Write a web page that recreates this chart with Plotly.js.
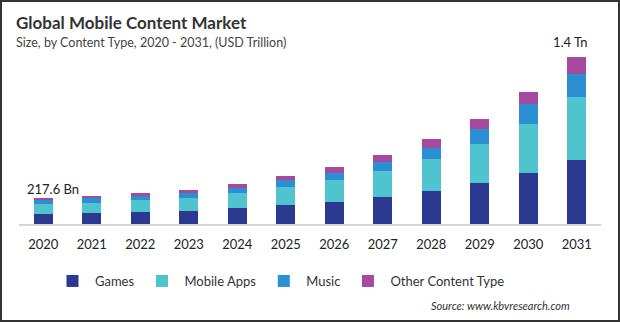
<!DOCTYPE html>
<html>
<head>
<meta charset="utf-8">
<script src="https://cdn.plot.ly/plotly-3.0.1.min.js"></script>
<style>
html,body{margin:0;padding:0;background:#fff;}
#wrap{position:relative;width:620px;height:322px;}
#chart{position:absolute;left:0;top:0;width:620px;height:322px;}
#frame{position:absolute;left:0;top:0;width:620px;height:322px;box-sizing:border-box;border:2px solid #333;pointer-events:none;}
</style>
</head>
<body>
<div id="wrap"><div id="chart"></div><div id="frame"></div></div>
<script>
const years = ['2020','2021','2022','2023','2024','2025','2026','2027','2028','2029','2030','2031'];
const games = [86, 92, 101, 109, 134, 160, 185, 229, 277, 344, 428, 538];
const mobileApps = [80, 87, 103, 112, 129, 154, 185, 218, 271, 328, 412, 529];
const music = [32, 36, 34, 42, 39, 53, 56, 76, 90, 126, 162, 193];
const otherContent = [19.6, 19, 23, 23, 34, 34, 55, 56, 78, 84, 107, 140];
const seriesNames = ['Games', 'Mobile Apps', 'Music', 'Other Content Type'];
const valueLabels = {'2020': '217.6 Bn', '2031': '1.4 Tn'};

const colors = ['#2b3990', '#4fc4cf', '#2b8fd1', '#a54a9e'];
const seriesData = [games, mobileApps, music, otherContent];
const FONT = 'Lato, "Open Sans", sans-serif';

const traces = seriesData.map((vals, i) => ({
  type: 'bar', name: seriesNames[i], x: years, y: vals,
  marker: {color: colors[i], line: {width: 0}},
  hoverinfo: 'x+y+name'
}));

const totals = years.map((_, k) => seriesData.reduce((s, arr) => s + arr[k], 0));

const annotations = [
  {xref:'paper', yref:'paper', x:0, y:1, xanchor:'left', yanchor:'middle', showarrow:false,
   text:'<b>Global Mobile Content Market</b>', font:{family:FONT, size:17, color:'#333'}},
  {xref:'paper', yref:'paper', x:0, y:1, xanchor:'left', yanchor:'middle', showarrow:false,
   text:'Size, by Content Type, 2020 - 2031, (USD Trillion)', font:{family:FONT, size:12.5, color:'#444'}},
  {xref:'paper', yref:'paper', x:1, y:0, xanchor:'right', yanchor:'middle', showarrow:false,
   text:'<i>Source: www.kbvresearch.com</i>', font:{family:FONT, size:11, color:'#333'}}
];
years.forEach((y, k) => {
  if (valueLabels[y]) {
    annotations.push({x: k, y: totals[k], xref:'x', yref:'y', yanchor:'bottom', xanchor:'center',
      showarrow:false, text: valueLabels[y], xshift: k === 0 ? 10 : -6, yshift: k === 0 ? -1 : 5,
      font:{family:FONT, size:13, color:'#222'}});
  }
});

const layout = {
  width: 620, height: 322,
  margin: {l: 19, r: 19, t: 40, b: 98},
  barmode: 'stack', bargap: 0.61,
  paper_bgcolor: '#fff', plot_bgcolor: '#fff',
  showlegend: true,
  legend: {orientation:'h', x: 0.09, y: -0.2, xanchor:'left', yanchor:'top',
    font:{family:FONT, size:13, color:'#333'}, itemwidth:35, traceorder:'normal', itemclick:false},
  xaxis: {type:'category', range:[-0.5, 11.5], showline:true, linecolor:'#d4d4d4', linewidth:1.5,
    ticks:'outside', ticklen:8, tickcolor:'rgba(0,0,0,0)', showgrid:false, zeroline:false,
    tickfont:{family:FONT, size:13, color:'#222'}, fixedrange:true},
  yaxis: {range:[0, 1542.5], visible:false, showgrid:false, zeroline:false, fixedrange:true},
  annotations: annotations,
  font: {family: FONT}
};
const plotH = 322 - 40 - 98, plotW = 620 - 19 - 19;
function py(pix){ return (322 - 98 - pix) / plotH; }
function px(pix){ return (pix - 19) / plotW; }
annotations[0].x = px(14); annotations[0].y = py(23);
annotations[1].x = px(14); annotations[1].y = py(43);
annotations[2].x = px(572); annotations[2].y = py(305);
layout.legend.x = px(50); layout.legend.y = py(266);

Plotly.newPlot('chart', traces, layout, {displayModeBar:false, staticPlot:true});
</script>
</body>
</html>
